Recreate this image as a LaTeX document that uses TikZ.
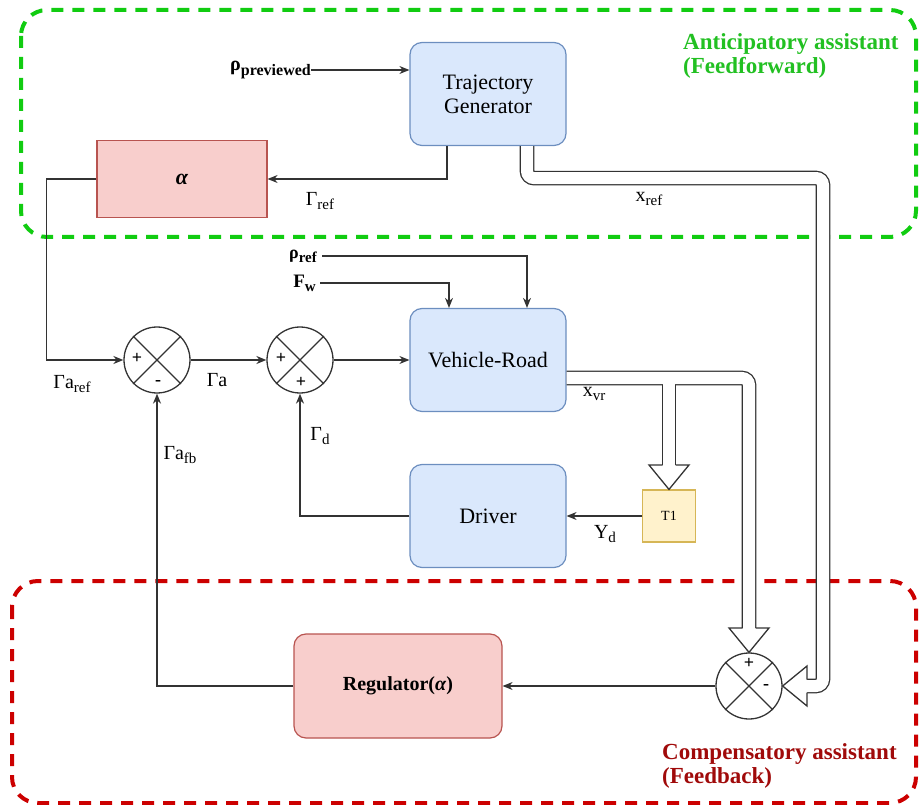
\documentclass[tikz,border=0pt]{standalone}
\usepackage{fontspec}
\setmainfont{Liberation Serif}
\usetikzlibrary{arrows.meta}
\definecolor{bfill}{HTML}{DAE8FC}
\definecolor{bdraw}{HTML}{6C8EBF}
\definecolor{rfill}{HTML}{F8CECC}
\definecolor{rdraw}{HTML}{B85450}
\definecolor{yfill}{HTML}{FFF2CC}
\definecolor{ydraw}{HTML}{D6B656}
\definecolor{gline}{HTML}{11CC11}
\definecolor{gtext}{HTML}{22C022}
\definecolor{redline}{HTML}{CC0000}
\definecolor{redtext}{HTML}{A00A0A}
\definecolor{lc}{HTML}{333333}
\newcommand{\fs}[1]{\fontsize{#1}{#1}\selectfont}
\newcommand{\sbx}[2]{#1\raisebox{-0.45ex}{\fs{15}#2}}
\begin{document}
\begin{tikzpicture}[x=1pt,y=-1pt,
  bluebox/.style={draw=bdraw,fill=bfill,line width=1.2pt,rounded corners=12pt,minimum width=156pt,minimum height=103pt,inner sep=0pt,align=center,font=\fs{22}},
  redbox/.style={draw=rdraw,fill=rfill,line width=1.2pt,inner sep=0pt,align=center},
  sumnode/.style={circle,draw=lc,line width=1.3pt,minimum size=66pt,inner sep=0pt},
  arr/.style={draw=lc,line width=1.3pt,-{Stealth[length=10pt,width=8pt]}},
  ln/.style={draw=lc,line width=1.3pt},
  lbl/.style={inner sep=0pt,font=\fs{20}},
  sgn/.style={inner sep=0pt,font=\bfseries\fs{18}},
  zone/.style={line width=4pt,dash pattern=on 12pt off 9pt,rounded corners=26pt},
  shaftout/.style={draw=lc,line width=14.6pt,rounded corners=7pt},
  shaftin/.style={draw=white,line width=12pt,rounded corners=7pt},
  hhead/.style={fill=white,draw=lc,line width=1.3pt,line join=miter}
]
\useasboundingbox (0,0) rectangle (922,805);
% zones
\draw[zone,draw=gline] (21,10) rectangle (916,237);
\draw[zone,draw=redline] (12,581) rectangle (916,803);
\node[anchor=west,inner sep=0pt,align=left,text=gtext,font=\bfseries\fs{23}] (antlbl) at (683,56) {Anticipatory assistant\\[1pt](Feedforward)};
\node[anchor=west,inner sep=0pt,align=left,text=redtext,font=\bfseries\fs{23}] (comlbl) at (662,766) {Compensatory assistant\\[1pt](Feedback)};
% blocks
\node[bluebox] (traj) at (488,94) {Trajectory\\[2pt]Generator};
\node[bluebox] (vr) at (488,360) {Vehicle-Road};
\node[bluebox] (drv) at (488,516) {Driver};
\node[redbox,minimum width=170pt,minimum height=77pt,font=\bfseries\fs{22}] (alpha) at (182,179) {\textit{α}};
\node[redbox,rounded corners=12pt,minimum width=208pt,minimum height=104pt,font=\bfseries\fs{20}] (reg) at (398,686) {Regulator(\textit{α})};
\node[draw=ydraw,fill=yfill,line width=1.2pt,minimum width=53pt,minimum height=52pt,inner sep=0pt,font=\fs{14}] (t1) at (669,516) {T1};
% summing junctions
\node[sumnode] (s1) at (157,360) {};
\node[sumnode] (s2) at (300,360) {};
\node[sumnode] (s3) at (749,686) {};
\foreach \s in {s1,s2,s3}{
  \draw[ln] (\s.north west) -- (\s.south east);
  \draw[ln] (\s.north east) -- (\s.south west);
}
\node[sgn] (s1p) at (137,358) {+};
\node[sgn] (s1m) at (158,383) {-};
\node[sgn] (s2p) at (281,358) {+};
\node[sgn] (s2q) at (301,382) {+};
\node[sgn] (s3p) at (749,663) {+};
\node[sgn] (s3m) at (766,687) {-};
% labels
\node[lbl,anchor=east,font=\bfseries\fs{20}] (rhoprev) at (311,70) {ρ\raisebox{-0.45ex}{\fs{16}previewed}};
\node[lbl,anchor=east,font=\bfseries\fs{18}] (rhoref) at (317,256) {ρ\raisebox{-0.45ex}{\fs{15}ref}};
\node[lbl,anchor=east,font=\bfseries\fs{19}] (fw) at (316,283) {F\raisebox{-0.45ex}{\fs{15}w}};
\node[lbl] (gref) at (320,201) {\sbx{Γ}{ref}};
\node[lbl] (xref) at (649,199) {\sbx{x}{ref}};
\node[lbl] (garef) at (72,384) {\sbx{Γa}{ref}};
\node[lbl] (ga) at (217,380) {Γa};
\node[lbl] (gd) at (320,436) {\sbx{Γ}{d}};
\node[lbl] (gafb) at (180,455) {\sbx{Γa}{fb}};
\node[lbl] (xvr) at (594,394) {\sbx{x}{vr}};
\node[lbl] (yd) at (605,534) {\sbx{Y}{d}};
% thin connectors
\draw[arr] (rhoprev.east) -- (traj.west |- rhoprev.east);
\draw[arr] ([xshift=-41pt]traj.south) |- (alpha.east);
\draw[ln] (alpha.west) -- ++(-50,0) coordinate (aturn);
\draw[arr] (aturn) |- (s1.west);
\draw[arr] (s1.east) -- (s2.west);
\draw[arr] (s2.east) -- (vr.west);
\draw[arr] ([xshift=5pt]rhoref.east) -| ([xshift=39pt]vr.north);
\draw[arr] ([xshift=4pt]fw.east) -| ([xshift=-39pt]vr.north);
\draw[arr] (t1.west) -- (drv.east);
\draw[arr] (drv.west) -| (s2.south);
\draw[arr] (s3.west) -- (reg.east);
\draw[arr] (reg.west) -| (s1.south);
% hollow (double) connectors
\coordinate (xrs) at ([xshift=39pt]traj.south);
\coordinate (xvs) at ([yshift=-18pt]vr.east);
\path[shaftout] (xrs) -- ++(0,32) -- (823,178) -- (823,686) -- (807,686);
\path[shaftout] (xvs) -- (749,378) -- (749,628);
\path[shaftout] (669,378) -- (669,465);
\path[shaftin] (xrs) -- ++(0,32) -- (823,178) -- (823,686) -- (807,686);
\path[shaftin] (xvs) -- (749,378) -- (749,628);
\path[shaftin] (669,378) -- (669,465);
\filldraw[hhead] (742.5,628) -- (729,628) -- (s3.north) -- (769,628) -- (755.5,628);
\filldraw[hhead] (662.5,465) -- (649,465) -- (t1.north) -- (689,465) -- (675.5,465);
\filldraw[hhead] (807,679.5) -- (807,666) -- (s3.east) -- (807,706) -- (807,692.5);
\end{tikzpicture}
\end{document}
